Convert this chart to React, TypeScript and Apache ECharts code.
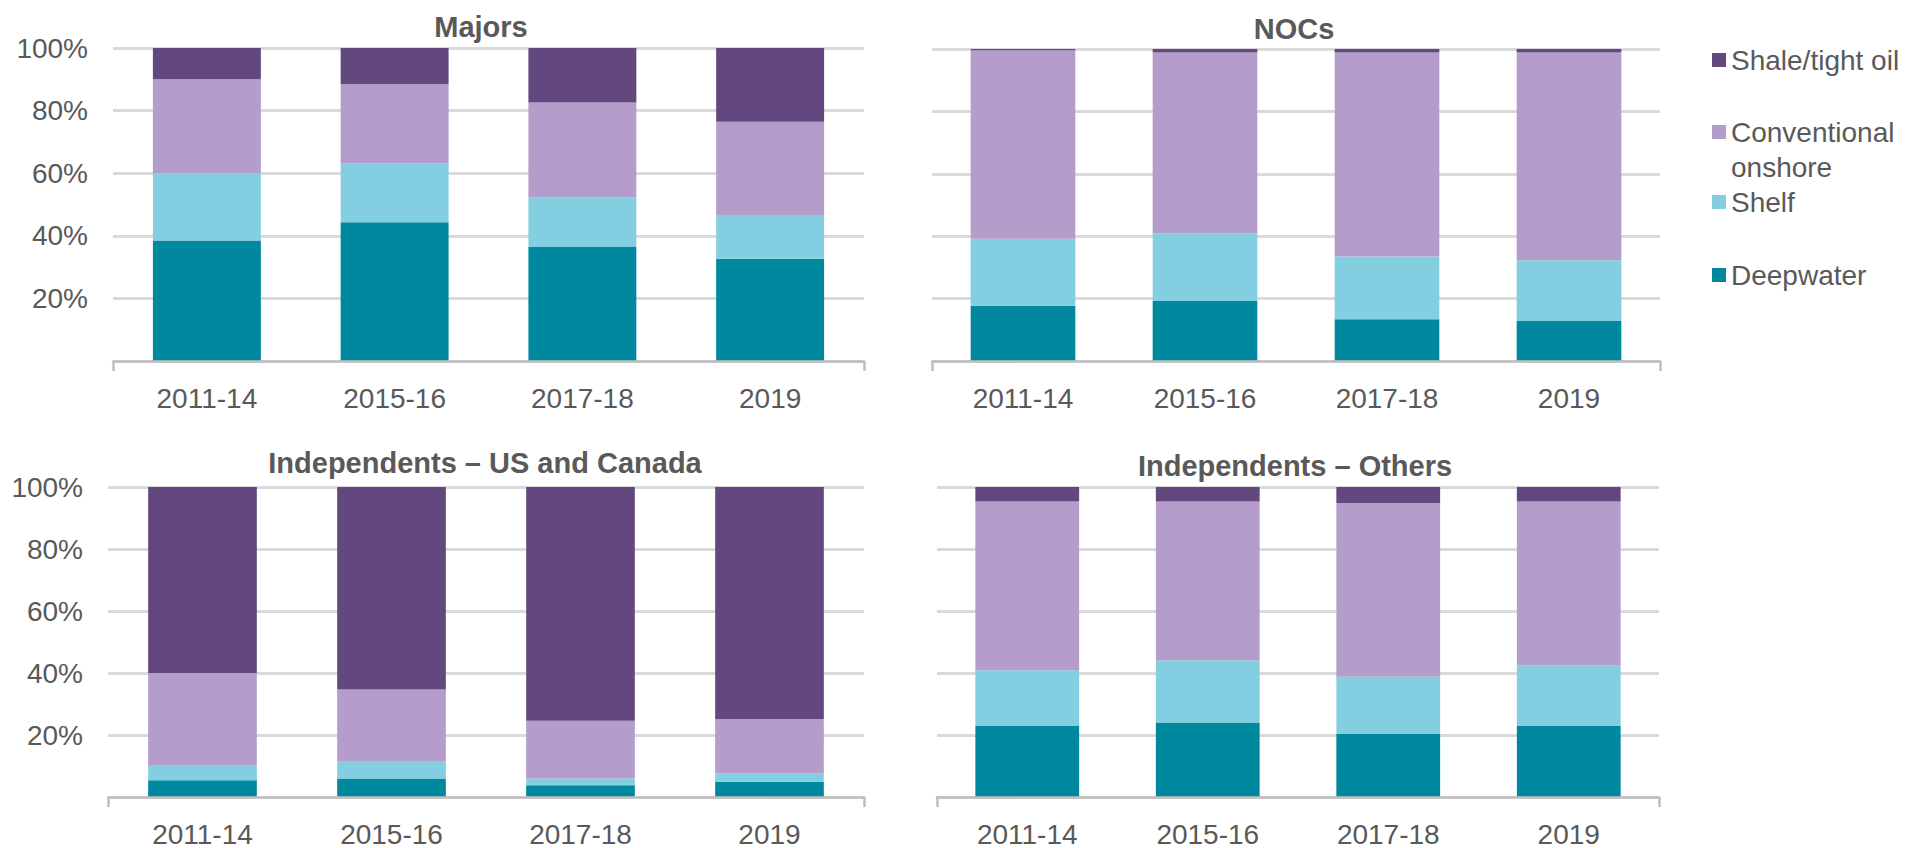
import React, { useEffect, useRef } from "react";
import * as echarts from "echarts";

const categories = ["2011-14", "2015-16", "2017-18", "2019"];
const yTicks = [0, 20, 40, 60, 80, 100];

const seriesNames = ["Deepwater", "Shelf", "Conventional onshore", "Shale/tight oil"];
const seriesColors = ["#00889e", "#83cfe1", "#b49dca", "#634880"];

// Majors
const majorsDeepwater = [38.5, 44.3, 36.4, 32.7];
const majorsShelf = [21.5, 18.9, 15.8, 13.7];
const majorsConventional = [30.0, 25.2, 30.4, 30.0];
const majorsShale = [10.0, 11.6, 17.4, 23.6];

// NOCs
const nocsDeepwater = [17.7, 19.2, 13.4, 12.8];
const nocsShelf = [21.5, 21.7, 20.1, 19.5];
const nocsConventional = [60.4, 58.0, 65.4, 66.6];
const nocsShale = [0.4, 1.1, 1.1, 1.1];

// Independents – US and Canada
const usDeepwater = [5.4, 6.0, 3.8, 4.9];
const usShelf = [4.9, 5.4, 2.2, 2.7];
const usConventional = [29.7, 23.3, 18.6, 17.6];
const usShale = [60.0, 65.3, 75.4, 74.8];

// Independents – Others
const othersDeepwater = [22.9, 24.0, 20.3, 22.9];
const othersShelf = [18.0, 20.1, 18.5, 19.6];
const othersConventional = [54.4, 51.2, 56.0, 52.8];
const othersShale = [4.7, 4.7, 5.2, 4.7];

const TEXT = "#595959";
const FONT = "'Liberation Sans', Arial, sans-serif";

const panels = [
  {
    title: "Majors",
    data: [majorsDeepwater, majorsShelf, majorsConventional, majorsShale],
    grid: { left: 113, right: 1044, top: 48, bottom: 487 },
    showY: true,
    titleAt: [481, 26.5],
  },
  {
    title: "NOCs",
    data: [nocsDeepwater, nocsShelf, nocsConventional, nocsShale],
    grid: { left: 932, right: 248, top: 49, bottom: 487 },
    showY: false,
    titleAt: [1294, 28.5],
  },
  {
    title: "Independents \u2013 US and Canada",
    data: [usDeepwater, usShelf, usConventional, usShale],
    grid: { left: 108, right: 1044, top: 487, bottom: 51 },
    showY: true,
    titleAt: [485, 462.5],
  },
  {
    title: "Independents \u2013 Others",
    data: [othersDeepwater, othersShelf, othersConventional, othersShale],
    grid: { left: 937, right: 249, top: 487, bottom: 51 },
    showY: false,
    titleAt: [1295, 466],
  },
];

function buildOption() {
  const grid: any[] = [];
  const xAxis: any[] = [];
  const yAxis: any[] = [];
  const series: any[] = [];
  const graphic: any[] = [];

  panels.forEach((p, g) => {
    grid.push({ ...p.grid, containLabel: false });
    // category axis (labels only)
    xAxis.push({
      type: "category",
      gridIndex: g,
      data: categories,
      position: "bottom",
      axisLine: { show: false },
      axisTick: { show: false },
      axisLabel: { fontSize: 28, color: TEXT, fontFamily: FONT, margin: 23 },
    });
    // value axis used only for line and end ticks
    xAxis.push({
      type: "value",
      gridIndex: g,
      min: 0,
      max: 1,
      interval: 1,
      position: "bottom",
      axisLine: { show: true, lineStyle: { color: "#bfbfbf", width: 2.5 } },
      axisTick: { show: true, length: 10, lineStyle: { color: "#bfbfbf", width: 2.5 } },
      axisLabel: { show: false },
      splitLine: { show: false },
      z: 5,
    });
    yAxis.push({
      type: "value",
      gridIndex: g,
      min: 0,
      max: 100,
      interval: 20,
      axisLine: { show: false },
      axisTick: { show: false },
      axisLabel: {
        show: p.showY,
        fontSize: 28,
        color: TEXT,
        fontFamily: FONT,
        margin: 25,
        formatter: (v: number) => (v === 0 ? "" : yTicks.includes(v) ? v + "%" : ""),
      },
      splitLine: { show: true, lineStyle: { color: "#dadada", width: 3 } },
    });
    p.data.forEach((vals, s) => {
      series.push({
        type: "bar",
        name: seriesNames[s],
        xAxisIndex: g * 2,
        yAxisIndex: g,
        stack: "panel" + g,
        data: vals,
        barCategoryGap: "42.5%",
        itemStyle: { color: seriesColors[s] },
        emphasis: { disabled: true },
      });
    });
    graphic.push({
      type: "text",
      x: p.titleAt[0],
      y: p.titleAt[1],
      style: {
        text: p.title,
        fontSize: 29,
        fontWeight: "bold",
        fontFamily: FONT,
        fill: TEXT,
        textAlign: "center",
        textVerticalAlign: "middle",
      },
    });
  });

  const legendBase = {
    orient: "vertical",
    left: 1712,
    padding: 0,
    itemWidth: 14,
    itemHeight: 14,
    icon: "rect",
    selectedMode: false,
    textStyle: { fontSize: 28, color: TEXT, fontFamily: FONT },
  };
  const legend = [
    { ...legendBase, top: 46, data: ["Shale/tight oil"] },
    { ...legendBase, top: 118, data: ["Conventional onshore"], formatter: () => "Conventional" },
    { ...legendBase, top: 188, data: ["Shelf"] },
    { ...legendBase, top: 261, data: ["Deepwater"] },
  ];
  graphic.push({
    type: "text",
    x: 1731,
    y: 167,
    style: {
      text: "onshore",
      fontSize: 28,
      fontFamily: FONT,
      fill: TEXT,
      textAlign: "left",
      textVerticalAlign: "middle",
    },
  });

  return {
    animation: false,
    backgroundColor: "#ffffff",
    grid,
    xAxis,
    yAxis,
    series,
    legend,
    graphic,
  };
}

export default function App() {
  const ref = useRef<HTMLDivElement>(null);
  useEffect(() => {
    document.body.style.margin = "0";
    const chart = echarts.init(ref.current!, undefined, { renderer: "svg" });
    chart.setOption(buildOption() as any);
    return () => chart.dispose();
  }, []);
  return (
    <div
      ref={ref}
      style={{ position: "absolute", left: 0, top: 0, width: 1908, height: 848 }}
    />
  );
}
